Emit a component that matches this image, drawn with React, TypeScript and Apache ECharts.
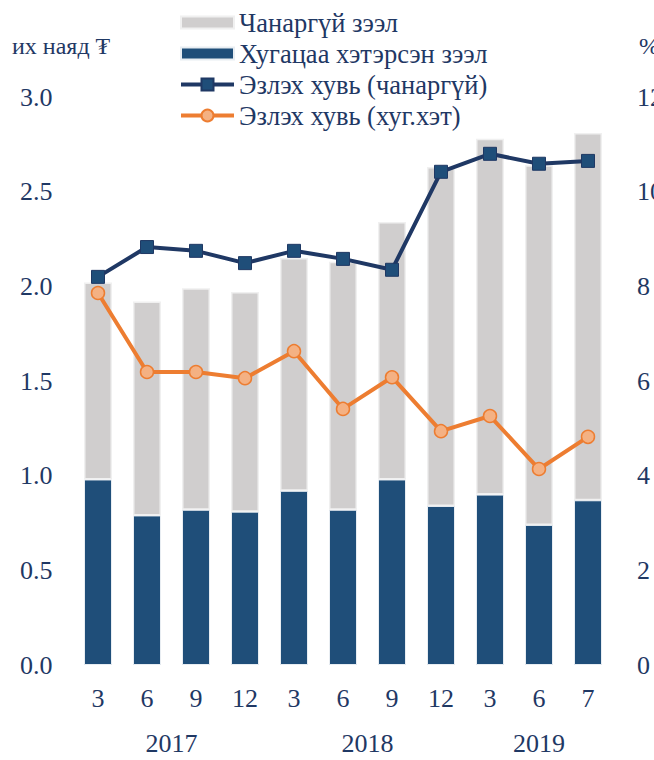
import React, { useEffect, useRef } from "react";
import * as echarts from "echarts";

const months = ["3", "6", "9", "12", "3", "6", "9", "12", "3", "6", "7"];
const years = [
  { label: "2017", from: 0, to: 3 },
  { label: "2018", from: 4, to: 7 },
  { label: "2019", from: 8, to: 10 },
];
const overdue = [0.98, 0.79, 0.82, 0.81, 0.92, 0.82, 0.98, 0.84, 0.9, 0.74, 0.87];
const npl = [1.04, 1.13, 1.17, 1.16, 1.23, 1.31, 1.36, 1.79, 1.88, 1.9, 1.94];
const nplShare = [8.2, 8.83, 8.75, 8.49, 8.75, 8.58, 8.35, 10.42, 10.8, 10.59, 10.65];
const overdueShare = [7.86, 6.19, 6.19, 6.06, 6.63, 5.41, 6.08, 4.94, 5.26, 4.14, 4.82];
const leftTicks = { min: 0, max: 3, interval: 0.5 };
const rightTicks = { min: 0, max: 12, interval: 2 };

const FONT = "'Liberation Serif', 'Times New Roman', serif";
const TXT = "#1F3864";
const BAR_ICON = "path://M0,0h53v12h-53z";

export default function App() {
  const ref = useRef<HTMLDivElement>(null);
  useEffect(() => {
    document.body.style.margin = "0";
    const chart = echarts.init(ref.current!, null, { renderer: "svg" });
    const option: any = {
      animation: false,
      backgroundColor: "#ffffff",
      textStyle: { fontFamily: FONT, color: TXT },
      grid: {
        left: 73.5,
        right: 41.5,
        top: 97,
        bottom: 95,
        containLabel: false,
        outerBoundsMode: "none",
      },
      legend: {
        orient: "vertical",
        left: 174,
        top: 4,
        itemWidth: 53,
        itemHeight: 15,
        itemGap: 4,
        symbolKeepAspect: true,
        textStyle: { fontFamily: FONT, fontSize: 26.5, color: TXT },
        data: [
          { name: "Чанаргүй зээл", icon: BAR_ICON },
          { name: "Хугацаа хэтэрсэн зээл", icon: BAR_ICON },
          { name: "Эзлэх хувь (чанаргүй)", lineStyle: { width: 4 } },
          { name: "Эзлэх хувь (хуг.хэт)", lineStyle: { width: 4 } },
        ],
      },
      xAxis: {
        type: "category",
        data: months,
        axisLine: { show: false },
        axisTick: { show: false },
        axisLabel: { fontFamily: FONT, fontSize: 26, color: TXT, margin: 20 },
      },
      yAxis: [
        {
          type: "value",
          ...leftTicks,
          splitLine: { show: false },
          axisLine: { show: false },
          axisTick: { show: false },
          axisLabel: {
            fontFamily: FONT,
            fontSize: 26,
            color: TXT,
            margin: 21,
            formatter: (v: number) => v.toFixed(1),
          },
        },
        {
          type: "value",
          ...rightTicks,
          splitLine: { show: false },
          axisLine: { show: false },
          axisTick: { show: false },
          axisLabel: { fontFamily: FONT, fontSize: 26, color: TXT, margin: 24.5 },
        },
      ],
      series: [
        {
          name: "Хугацаа хэтэрсэн зээл",
          type: "bar",
          stack: "loans",
          data: overdue,
          barWidth: 28,
          itemStyle: { color: "#1F4E79", borderColor: "#e8edf2", borderWidth: 1 },
        },
        {
          name: "Чанаргүй зээл",
          type: "bar",
          stack: "loans",
          data: npl,
          barWidth: 28,
          itemStyle: { color: "#D0CECE", borderColor: "#f0f0f0", borderWidth: 1.5 },
        },
        {
          name: "Эзлэх хувь (чанаргүй)",
          type: "line",
          yAxisIndex: 1,
          data: nplShare,
          symbol: "rect",
          symbolSize: 13,
          lineStyle: { color: "#1F3864", width: 4 },
          itemStyle: { color: "#1F4E79", borderColor: "#1F3864", borderWidth: 1 },
        },
        {
          name: "Эзлэх хувь (хуг.хэт)",
          type: "line",
          yAxisIndex: 1,
          data: overdueShare,
          symbol: "circle",
          symbolSize: 13,
          lineStyle: { color: "#ED7D31", width: 4 },
          itemStyle: { color: "#F4B183", borderColor: "#ED7D31", borderWidth: 1.5 },
        },
      ],
      graphic: [
        {
          type: "text",
          left: 12,
          top: 34,
          style: { text: "их наяд ₮", fontFamily: FONT, fontSize: 24, fill: TXT },
        },
        {
          type: "text",
          left: 639,
          top: 34,
          style: { text: "%", fontFamily: FONT, fontSize: 24, fill: TXT },
        },
      ],
    };
    chart.setOption(option);
    const yearTexts = years.map((y) => {
      const a = chart.convertToPixel({ xAxisIndex: 0 }, y.from) as number;
      const b = chart.convertToPixel({ xAxisIndex: 0 }, y.to) as number;
      return {
        type: "text",
        x: (a + b) / 2,
        y: 743,
        style: {
          text: y.label,
          fontFamily: FONT,
          fontSize: 26,
          fill: TXT,
          align: "center",
          verticalAlign: "middle",
        },
      };
    });
    chart.setOption({ graphic: [...option.graphic, ...yearTexts] });
    return () => chart.dispose();
  }, []);
  return <div ref={ref} style={{ width: 654, height: 760 }} />;
}
